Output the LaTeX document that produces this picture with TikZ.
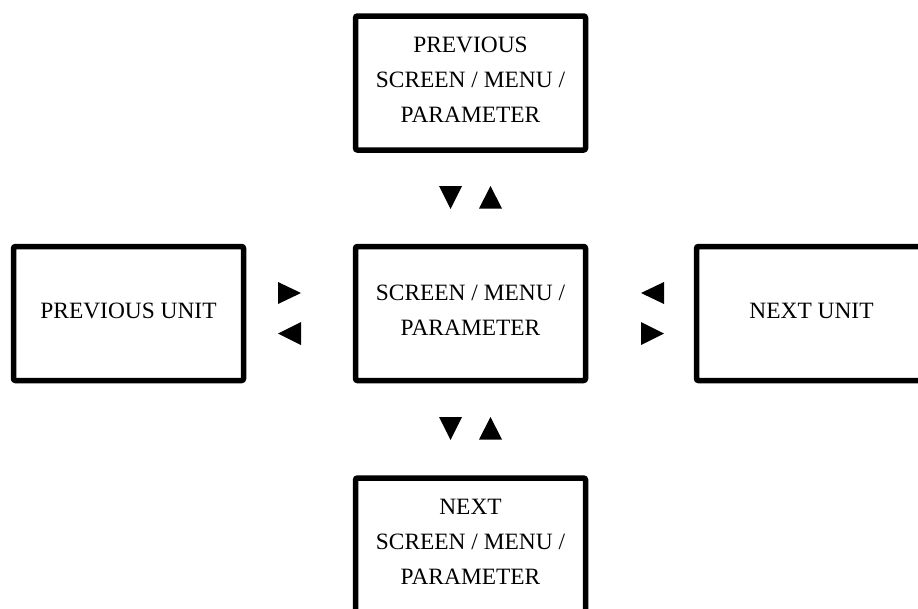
\documentclass[tikz,border=0pt]{standalone}
\usepackage{fontspec}
\setmainfont{Liberation Serif}
\usetikzlibrary{positioning}
\tikzset{screen/.style = {draw, line width = 5.5, rounded corners = 2, align = center, inner sep = 0, text depth = 6, minimum width = 230, minimum height = 134, font = \fontsize{23.4}{35}\selectfont}}
\tikzset{tri/.style = {fill}}

\begin{document}
\begin{tikzpicture}[x = 1pt, y = -1pt]
          \clip (0, 0) rectangle (918, 608);

          \node [screen] (prev) at (470.5, 83) {PREVIOUS\\SCREEN / MENU /\\PARAMETER};
          \node [screen] (cur) at (470.5, 313.5) {SCREEN / MENU /\\PARAMETER};
          \node [screen] (next) at (470.5, 545) {NEXT\\SCREEN / MENU /\\PARAMETER};
          \node [screen] (prevunit) at (128.5, 313.5) {PREVIOUS UNIT};
          \node [screen] (nextunit) at (811.5, 313.5) {NEXT UNIT};

          % up / down
          \fill [tri] (439, 186) -- (462, 186) -- (450.5, 209) -- cycle;
          \fill [tri] (479, 208.5) -- (502, 208.5) -- (490.5, 186) -- cycle;
          \fill [tri] (439, 417) -- (462, 417) -- (450.5, 440) -- cycle;
          \fill [tri] (479, 439.5) -- (502, 439.5) -- (490.5, 417) -- cycle;

          % left / right
          \fill [tri] (278, 282) -- (278, 304) -- (301, 293) -- cycle;
          \fill [tri] (301, 322) -- (301, 345) -- (278, 333.5) -- cycle;
          \fill [tri] (664, 282) -- (664, 304) -- (641, 293) -- cycle;
          \fill [tri] (641, 322) -- (641, 345) -- (664, 333.5) -- cycle;
        \end{tikzpicture}
\end{document}
